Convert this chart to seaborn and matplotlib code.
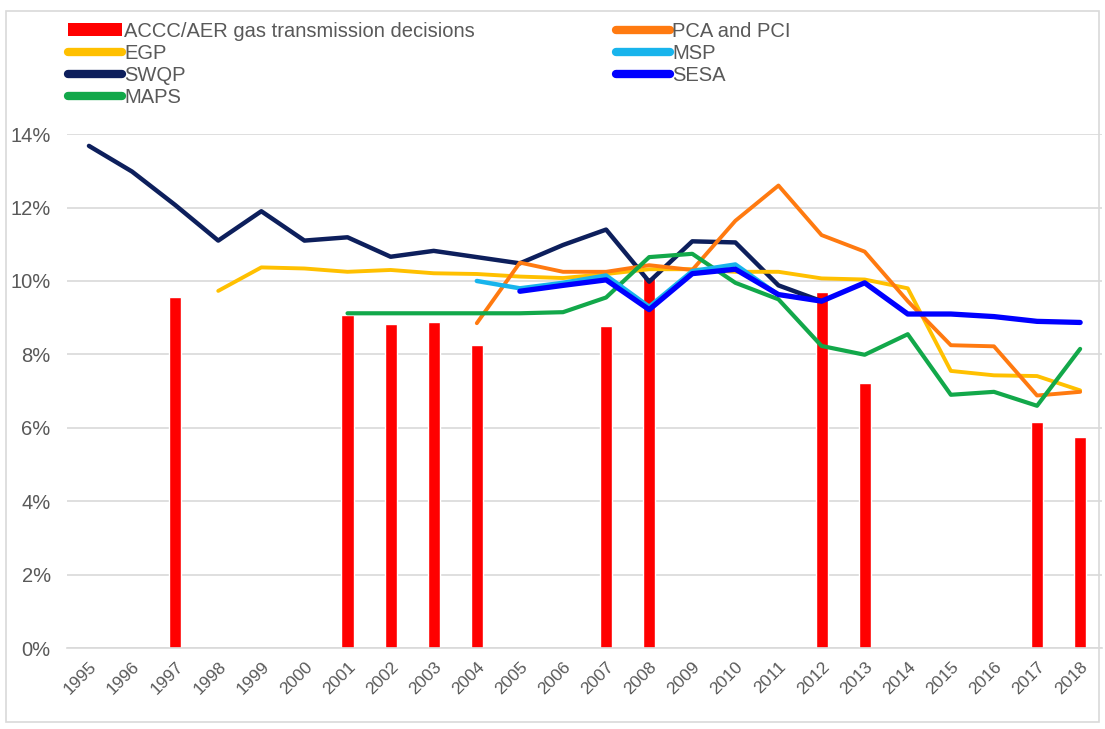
import numpy as np
import pandas as pd
import seaborn as sns
import matplotlib.pyplot as plt
from matplotlib.ticker import PercentFormatter, MultipleLocator
from matplotlib.lines import Line2D
from matplotlib.patches import Patch, Rectangle

years = list(range(1995, 2019))

# ACCC/AER decisions (bars), % values
bar_years = [1997, 2001, 2002, 2003, 2004, 2007, 2008, 2012, 2013, 2017, 2018]
bar_vals = [9.57, 9.07, 8.82, 8.89, 8.25, 8.77, 10.1, 9.7, 7.21, 6.17, 5.74]

N = None
swqp = [13.68, 12.98, 12.07, 11.1, 11.9, 11.1, 11.19, 10.66, 10.82, 10.65, 10.48,
        10.98, 11.4, 9.98, 11.08, 11.05, 9.88, 9.45, N, N, N, N, N, N]
egp = [N, N, N, 9.73, 10.37, 10.34, 10.25, 10.3, 10.21, 10.19, 10.12,
       10.08, 10.19, 10.32, 10.32, 10.25, 10.25, 10.07, 10.04, 9.8, 7.55, 7.43, 7.41, 7.02]
pca = [N, N, N, N, N, N, N, N, N, 8.85, 10.5,
       10.25, 10.25, 10.43, 10.3, 11.64, 12.6, 11.25, 10.8, 9.45, 8.25, 8.22, 6.88, 6.98]
maps = [N, N, N, N, N, N, 9.12, 9.12, 9.12, 9.12, 9.12,
        9.15, 9.55, 10.65, 10.74, 9.95, 9.5, 8.23, 7.99, 8.55, 6.9, 6.98, 6.6, 8.15]
msp = [N, N, N, N, N, N, N, N, N, 10.0, 9.8,
       9.95, 10.15, 9.3, 10.27, 10.45, 9.62, N, N, N, N, N, N, N]
sesa = [N, N, N, N, N, N, N, N, N, N, 9.72,
        9.88, 10.03, 9.22, 10.2, 10.32, 9.63, 9.45, 9.95, 9.1, 9.1, 9.03, 8.9, 8.87]

series = {"SWQP": swqp, "EGP": egp, "PCA and PCI": pca, "MAPS": maps,
          "MSP": msp, "SESA": sesa}
colors = {"SWQP": "#0d1f5c", "EGP": "#ffc000", "PCA and PCI": "#ff7a10",
          "MAPS": "#12a84a", "MSP": "#18b4ec", "SESA": "#0000ff"}
widths = {"SWQP": 3.2, "EGP": 2.8, "PCA and PCI": 2.8, "MAPS": 3.0,
          "MSP": 3.2, "SESA": 3.8}

df = pd.DataFrame(series)
df["year"] = years
long = df.melt(id_vars="year", var_name="series", value_name="value").dropna()
bars = pd.DataFrame({"year": bar_years, "value": bar_vals})

sns.set_style("white")
plt.rcParams["font.family"] = ["Liberation Sans", "DejaVu Sans"]

fig = plt.figure(figsize=(11.05, 7.29), dpi=100)
ax = fig.add_axes([0.061, 0.111, 0.936, 0.705])

sns.barplot(data=bars, x="year", y="value", native_scale=True, width=0.28,
            color="#ff0000", saturation=1, ax=ax, zorder=2)

for name in ["SWQP", "EGP", "PCA and PCI", "MAPS", "MSP", "SESA"]:
    sub = long[long["series"] == name]
    sns.lineplot(data=sub, x="year", y="value", color=colors[name],
                 linewidth=widths[name], ax=ax, zorder=3,
                 solid_capstyle="round", solid_joinstyle="round")

ax.set_xlim(1994.5, 2018.5)
ax.set_ylim(0, 14)
ax.yaxis.set_major_locator(MultipleLocator(2))
ax.yaxis.set_major_formatter(PercentFormatter(xmax=100, decimals=0))
ax.set_xticks(years)
ax.set_xticklabels([str(y) for y in years], rotation=45, ha="right",
                   rotation_mode="anchor")
ax.set_xticks([y + 0.5 for y in years[:-1]], minor=True)
ax.tick_params(axis="x", which="major", length=0, labelsize=12.5,
               labelcolor="#595959", pad=8)
ax.tick_params(axis="x", which="minor", length=5, color="#d9d9d9", width=1,
               direction="out")
ax.tick_params(axis="y", length=0, labelsize=14.5, labelcolor="#595959", pad=12)
ax.grid(axis="y", color="#d9d9d9", linewidth=1.2)
ax.set_axisbelow(True)
ax.set_xlabel("")
ax.set_ylabel("")
for s in ["top", "right", "left"]:
    ax.spines[s].set_visible(False)
ax.spines["bottom"].set_color("#d9d9d9")
ax.spines["bottom"].set_linewidth(1.2)

handles = [Patch(facecolor="#ff0000", edgecolor="none")]
labels = ["ACCC/AER gas transmission decisions"]
for name in ["EGP", "SWQP", "MAPS", "PCA and PCI", "MSP", "SESA"]:
    handles.append(Line2D([], [], color=colors[name], linewidth=6,
                          solid_capstyle="round"))
    labels.append(name)
fig.legend(handles, labels, ncol=2, loc="upper left",
           bbox_to_anchor=(0.045, 0.995), frameon=False, fontsize=14.5,
           handlelength=2.7, handleheight=0.6, handletextpad=0.1,
           labelspacing=0.15, columnspacing=7.0, labelcolor="#595959")

fig.add_artist(Rectangle((0.005, 0.01), 0.99, 0.975, transform=fig.transFigure,
                         fill=False, edgecolor="#d9d9d9", linewidth=1.2))

fig.savefig("out.png", dpi=100)
